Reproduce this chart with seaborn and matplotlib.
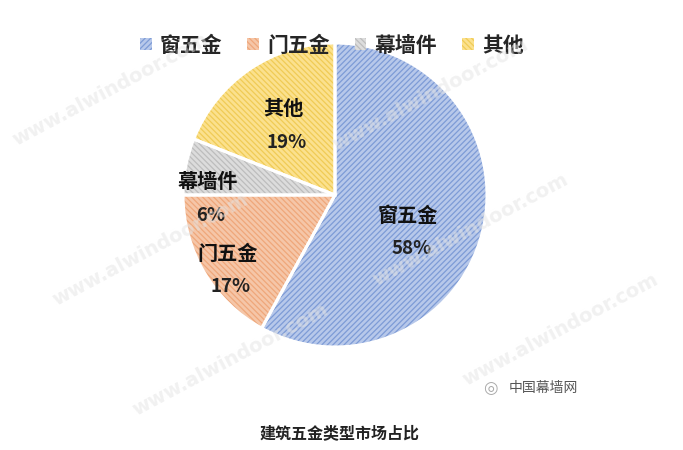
import numpy as np
import matplotlib
matplotlib.use("Agg")
import matplotlib.pyplot as plt
import seaborn as sns
from matplotlib.patches import Patch

categories = ["窗五金", "门五金", "幕墙件", "其他"]
values = [58, 17, 6, 19]
title = "建筑五金类型市场占比"
watermark = "www.alwindoor.com"
brand = "中国幕墙网"

face_colors = ["#B7C8EA", "#F5C6A8", "#DCDCDC", "#FBE18E"]
hatch_colors = ["#7D9BD6", "#EFA77A", "#BDBDBD", "#F0CB55"]
hatches = ["//////", "\\\\\\\\\\\\", "\\\\\\\\\\\\", "\\\\\\\\\\\\"]
# label placement (radius fraction, angle in degrees)
label_pos = [(0.54, -27), (0.86, -145), (0.84, 181.5), (0.57, 126.6)]

sns.set_theme(style="white")
plt.rcParams["font.family"] = ["Noto Sans CJK SC", "DejaVu Sans"]
plt.rcParams["hatch.linewidth"] = 0.9

fig = plt.figure(figsize=(6.83, 4.5), dpi=100)
fig.patch.set_facecolor("white")

cx, cy, r = 335, 195, 152
W, H = 683, 450
ax = fig.add_axes([(cx - r) / W, (H - cy - r) / H, 2 * r / W, 2 * r / H])

wedges, _ = ax.pie(values, startangle=90, counterclock=False, radius=1.0,
                   colors=face_colors,
                   wedgeprops=dict(linewidth=0))
for w, hc, h in zip(wedges, hatch_colors, hatches):
    w.set_hatch(h)
    w.set_edgecolor(hc)
    w.set_linewidth(0)
# white separators
ax.pie(values, startangle=90, counterclock=False, radius=1.0,
       colors=["none"] * 4,
       wedgeprops=dict(linewidth=2.2, edgecolor="white", fill=False))
ax.set_xlim(-1.0, 1.0)
ax.set_ylim(-1.0, 1.0)
ax.set_aspect("equal")
ax.axis("off")

for cat, v, (rr, ang) in zip(categories, values, label_pos):
    x = rr * np.cos(np.deg2rad(ang))
    y = rr * np.sin(np.deg2rad(ang))
    ax.text(x, y + 0.11, cat, ha="center", va="center", fontsize=14.5,
            fontweight="bold", color="#111111")
    ax.text(x + 0.02, y - 0.11, f"{v}%", ha="center", va="center", fontsize=13.5,
            fontweight="bold", color="#222222")

handles = [Patch(facecolor=fc, edgecolor=hc, hatch=h, linewidth=0)
           for fc, hc, h in zip(face_colors, hatch_colors, hatches)]
leg = fig.legend(handles, categories, loc="center", bbox_to_anchor=(0.486, 0.9),
                 ncol=4, frameon=False, handlelength=0.55,
                 handleheight=0.55, handletextpad=0.4, columnspacing=1.2,
                 prop=dict(size=15, weight="bold"))

fig.text(0.497, 1 - 433 / H, title, ha="center", va="center", fontsize=11.5,
         fontweight="bold", color="#222222")
fig.text(0.745, 1 - 388 / H, brand, ha="left", va="center", fontsize=10,
         color="#555555")
fig.text(0.718, 1 - 388 / H, "◎", ha="center", va="center", fontsize=12,
         color="#AAAAAA", family=["DejaVu Sans"])

# faint watermarks
for (px, py) in [(110, 90), (430, 95), (150, 250), (470, 230),
                 (230, 360), (560, 330)]:
    fig.text(px / W, 1 - py / H, watermark, ha="center", va="center",
             fontsize=14, rotation=28, color="#E3E3E3", alpha=0.5,
             fontweight="bold", family=["DejaVu Sans"], zorder=10)

fig.savefig("out.png", dpi=100, facecolor="white")
